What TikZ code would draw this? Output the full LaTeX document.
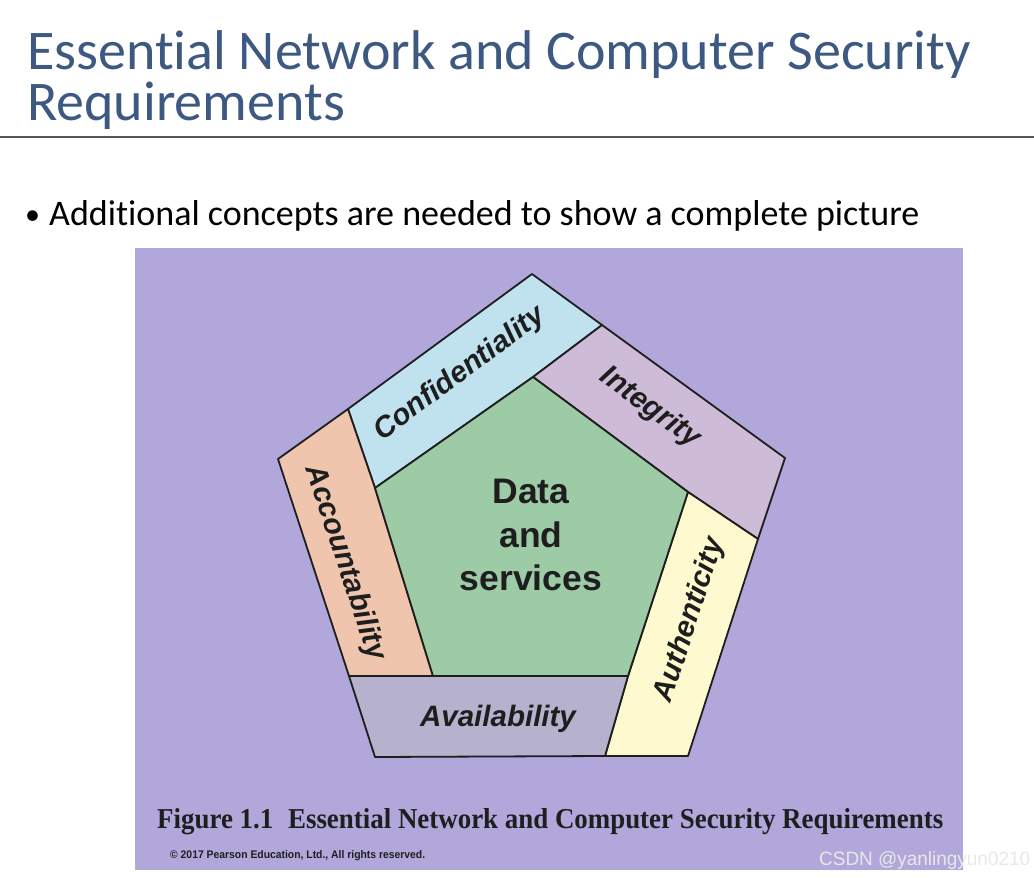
\documentclass[tikz,border=0pt]{standalone}
\usepackage{fontspec}
\setmainfont{Carlito}[Ligatures=NoCommon]
\newfontfamily\arialf{Liberation Sans}
\newfontfamily\timesf{Liberation Serif}
\definecolor{titleblue}{RGB}{61,89,130}
\definecolor{bgpurple}{RGB}{177,167,219}
\definecolor{confc}{RGB}{192,226,239}
\definecolor{integc}{RGB}{205,187,215}
\definecolor{authc}{RGB}{255,249,208}
\definecolor{availc}{RGB}{182,178,206}
\definecolor{accc}{RGB}{240,197,174}
\definecolor{datac}{RGB}{157,203,165}
\definecolor{edgec}{RGB}{30,30,30}
\definecolor{rulec}{RGB}{85,85,85}
\definecolor{wmark}{RGB}{232,232,232}
\tikzset{
  band/.style={draw=edgec, line width=1.8pt, line join=round},
  bandlabel/.style={inner sep=0pt, text=edgec, font=\arialf\bfseries\itshape\fontsize{29.5}{32}\selectfont},
  datalabel/.style={inner sep=0pt, anchor=base, text=edgec, font=\arialf\bfseries\fontsize{35.5}{38}\selectfont},
  titletext/.style={inner sep=0pt, anchor=base west, text=titleblue, font=\fontsize{56}{60}\selectfont},
}
\begin{document}
\begin{tikzpicture}[x=1pt,y=-1pt]
\useasboundingbox (0,0) rectangle (1034,878);
% title
\node[titletext] (title1) at (27,69) {Essential Network and Computer Security};
\node[titletext] (title2) at (27,120) {Requirements};
\draw[rulec, line width=2pt] (0,137) -- (1034,137);
% bullet
\node[inner sep=0pt, anchor=base west, font=\fontsize{36}{40}\selectfont] (bullet) at (25,225) {\makebox[24pt][l]{\raisebox{1pt}{\fontsize{30}{30}\selectfont\textbullet}}Additional concepts are needed to show a complete picture};
% figure background
\fill[bgpurple] (135,248) rectangle (963,870);
% outer points
\coordinate (T) at (532,274);
\coordinate (R) at (785,458);
\coordinate (BR) at (688,756);
\coordinate (BL) at (375,757);
\coordinate (L) at (278,459);
\coordinate (cA) at (348,409);
\coordinate (cB) at (602,325);
\coordinate (cC) at (758,539);
\coordinate (cD) at (605,756);
\coordinate (cE) at (349,676);
% inner points
\coordinate (iT) at (533,377);
\coordinate (iR) at (688,492);
\coordinate (iBR) at (628,676);
\coordinate (iBL) at (433,676);
\coordinate (iL) at (375,488);
% bands
\filldraw[band, fill=confc] (cA) -- (T) -- (cB) -- (iT) -- (iL) -- cycle;
\filldraw[band, fill=integc] (cB) -- (R) -- (cC) -- (iR) -- (iT) -- cycle;
\filldraw[band, fill=authc] (cC) -- (BR) -- (cD) -- (iBR) -- (iR) -- cycle;
\filldraw[band, fill=availc] (cE) -- (iBR) -- (cD) -- (BL) -- cycle;
\filldraw[band, fill=accc] (cA) -- (L) -- (cE) -- (iBL) -- (iL) -- cycle;
\filldraw[band, fill=datac] (iT) -- (iR) -- (iBR) -- (iBL) -- (iL) -- cycle;
% labels
\node[bandlabel, rotate=36.5] (conf) at (460,374) {Confidentiality};
\node[bandlabel, rotate=-36] (integ) at (650,408) {Integrity};
\node[bandlabel, rotate=72] (auth) at (690,620) {Authenticity};
\node[bandlabel] (avail) at (498,719) {Availability};
\node[bandlabel, rotate=-71.6] (acc) at (345,563) {Accountability};
\node[datalabel] (data1) at (531,503) {Data};
\node[datalabel] (data2) at (531,547) {and};
\node[datalabel] (data3) at (531,590) {services};
% caption
\node[inner sep=0pt, anchor=base west, text=edgec] (caption) at (157,828) {\resizebox{786pt}{20pt}{\timesf\bfseries\fontsize{26}{30}\selectfont Figure 1.1\hspace{0.3em} Essential Network and Computer Security Requirements}};
\node[inner sep=0pt, anchor=base west, text=edgec] (copy) at (170,858) {\resizebox{255pt}{8pt}{\arialf\bfseries\fontsize{10}{12}\selectfont \textcopyright\ 2017 Pearson Education, Ltd., All rights reserved.}};
% watermark
\node[inner sep=0pt, anchor=base west, text=wmark, font=\arialf\fontsize{19}{22}\selectfont] (wm) at (819,865) {\resizebox{211pt}{14pt}{CSDN @yanlingyun0210}};
\end{tikzpicture}
\end{document}
